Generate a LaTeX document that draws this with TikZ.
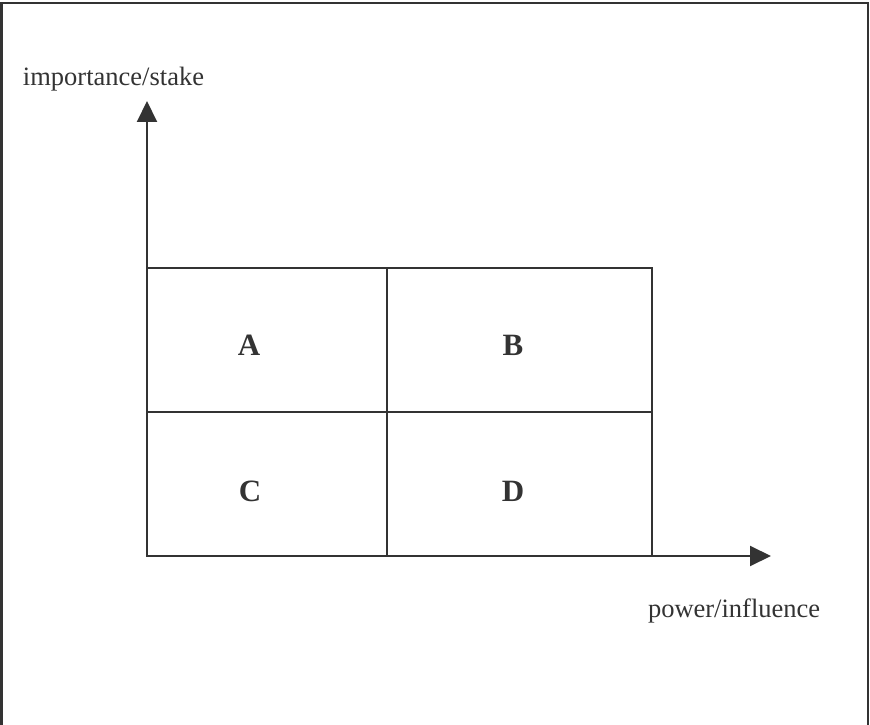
\documentclass[tikz,border=0pt]{standalone}
\usepackage{fontspec}
\setmainfont{Liberation Serif}
\usetikzlibrary{arrows.meta}
\definecolor{ink}{HTML}{333333}

\begin{document}
\begin{tikzpicture}[x=1pt,y=1pt,line width=2pt,draw=ink,
    every node/.style={text=ink,inner sep=0pt},
    axislabel/.style={font=\fontsize{26.5}{30}\selectfont},
    cellname/.style={font=\fontsize{31}{34}\selectfont\bfseries,anchor=base},
    axisarrow/.style={-{Triangle[width=20pt,length=21pt]}}]
    \useasboundingbox (0,0) rectangle (870,724);
    \draw [line width=2.5pt](1.5,-20) rectangle (868,721);
    % axes
    \coordinate (o) at (147,168);
    \coordinate (ytip) at (147,623);
    \coordinate (xtip) at (771,168);
    \draw [axisarrow](o)--(ytip);
    \draw [axisarrow](o)--(xtip);
    \node [axislabel,anchor=base west](ylab) at (22,638) {importance/stake};
    \node [axislabel,anchor=base west](xlab) at (647,107) {power/influence};
    % grid
    \draw (147,168) rectangle (652,456);
    \draw (147,312)--(652,312);
    \draw (387,168)--(387,456);
    \node [cellname](a) at (249,368) {A};
    \node [cellname](b) at (513,368) {B};
    \node [cellname](c) at (250,223) {C};
    \node [cellname](d) at (513,223) {D};
\end{tikzpicture}
\end{document}
